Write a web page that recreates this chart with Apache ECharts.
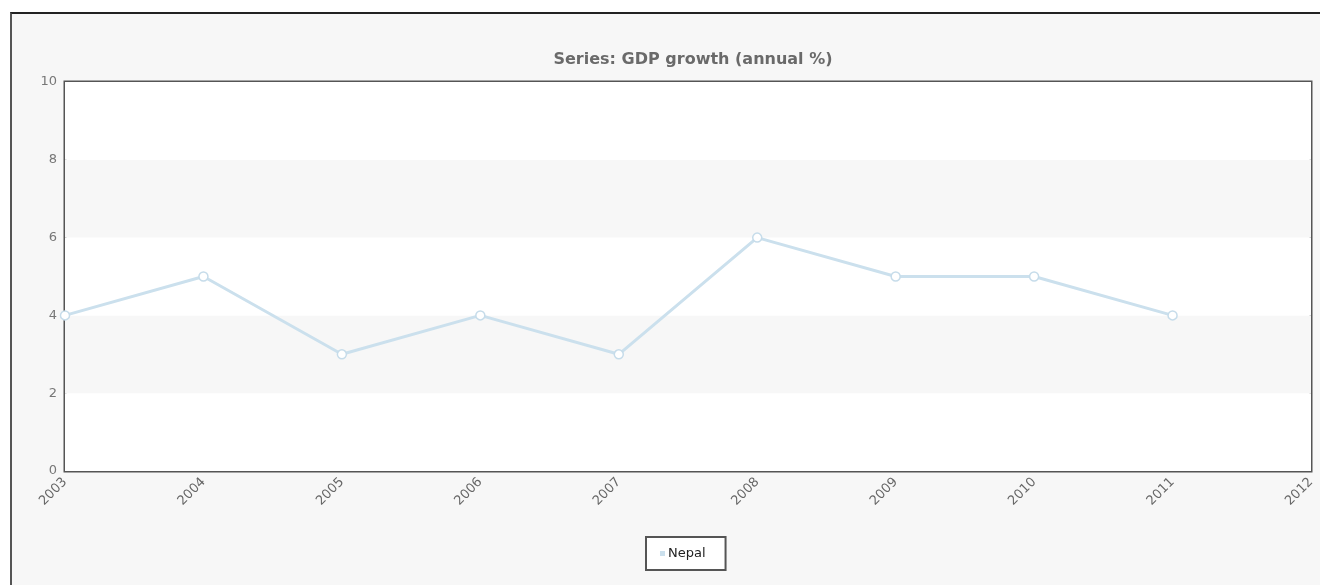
<!DOCTYPE html>
<html>
<head>
<meta charset="utf-8">
<script src="https://cdn.jsdelivr.net/npm/echarts@6/dist/echarts.min.js"></script>
<style>
  html, body { margin: 0; padding: 0; background: #ffffff; }
  .frame {
    position: absolute; left: 10px; top: 12px; width: 1320px; height: 585px;
    border-top: 2px solid #222; border-left: 2px solid #555; background: #f7f7f7;
  }
  .chart { position: absolute; left: 0; top: 0; width: 1320px; height: 585px; }
</style>
</head>
<body>
<div class="frame"></div>
<div class="chart"></div>
<script>
// data
var years = ["2003", "2004", "2005", "2006", "2007", "2008", "2009", "2010", "2011", "2012"];
var nepal = [4, 5, 3, 4, 3, 6, 5, 5, 4, null];

(function () {
  var myChart = echarts.init(document.querySelector(".chart"));
  var option = {
    backgroundColor: "transparent",
    title: {
      text: "Series: GDP growth (annual %)",
      left: 688,
      textAlign: "center",
      top: 47,
      textStyle: { color: "#6a6a6a", fontSize: 16, fontWeight: "bold", fontFamily: "DejaVu Sans" }
    },
    legend: {
      data: ["Nepal"],
      left: 646,
      top: 537,
      icon: "rect",
      itemWidth: 5,
      itemHeight: 5,
      itemGap: 4,
      itemStyle: { color: "#cbe0ed", borderWidth: 0 },
      padding: [10, 20, 10, 14],
      borderColor: "#555",
      borderWidth: 2,
      backgroundColor: "#ffffff",
      textStyle: { color: "#222", fontSize: 13, fontFamily: "DejaVu Sans", padding: [0, 0, 0, -2] }
    },
    grid: {
      left: 65,
      right: 9,
      top: 82,
      bottom: 114,
      show: true,
      backgroundColor: "#ffffff",
      borderColor: "#555",
      borderWidth: 3
    },
    xAxis: {
      type: "category",
      boundaryGap: false,
      data: years,
      axisLine: { show: false },
      axisTick: { show: false },
      splitLine: { show: false },
      axisLabel: {
        rotate: 45,
        interval: 0,
        margin: 9,
        color: "#666",
        fontSize: 13,
        fontFamily: "DejaVu Sans"
      }
    },
    yAxis: {
      type: "value",
      min: 0,
      max: 10,
      interval: 2,
      axisLine: { show: false },
      axisTick: { show: false },
      splitLine: { show: false },
      splitArea: { show: true, areaStyle: { color: ["#ffffff", "#f7f7f7"] } },
      axisLabel: { color: "#777", fontSize: 13, margin: 8, fontFamily: "DejaVu Sans" }
    },
    series: [
      {
        name: "Nepal",
        type: "line",
        data: nepal,
        color: "#cbe0ed",
        symbol: "circle",
        symbolSize: 9,
        lineStyle: { color: "#cbe0ed", width: 3 },
        itemStyle: { color: "#ffffff", borderColor: "#c6dcea", borderWidth: 1.5 }
      }
    ]
  };
  myChart.setOption(option);
  window.addEventListener("resize", function () {
    myChart.resize();
  });
})();
</script>
</body>
</html>
